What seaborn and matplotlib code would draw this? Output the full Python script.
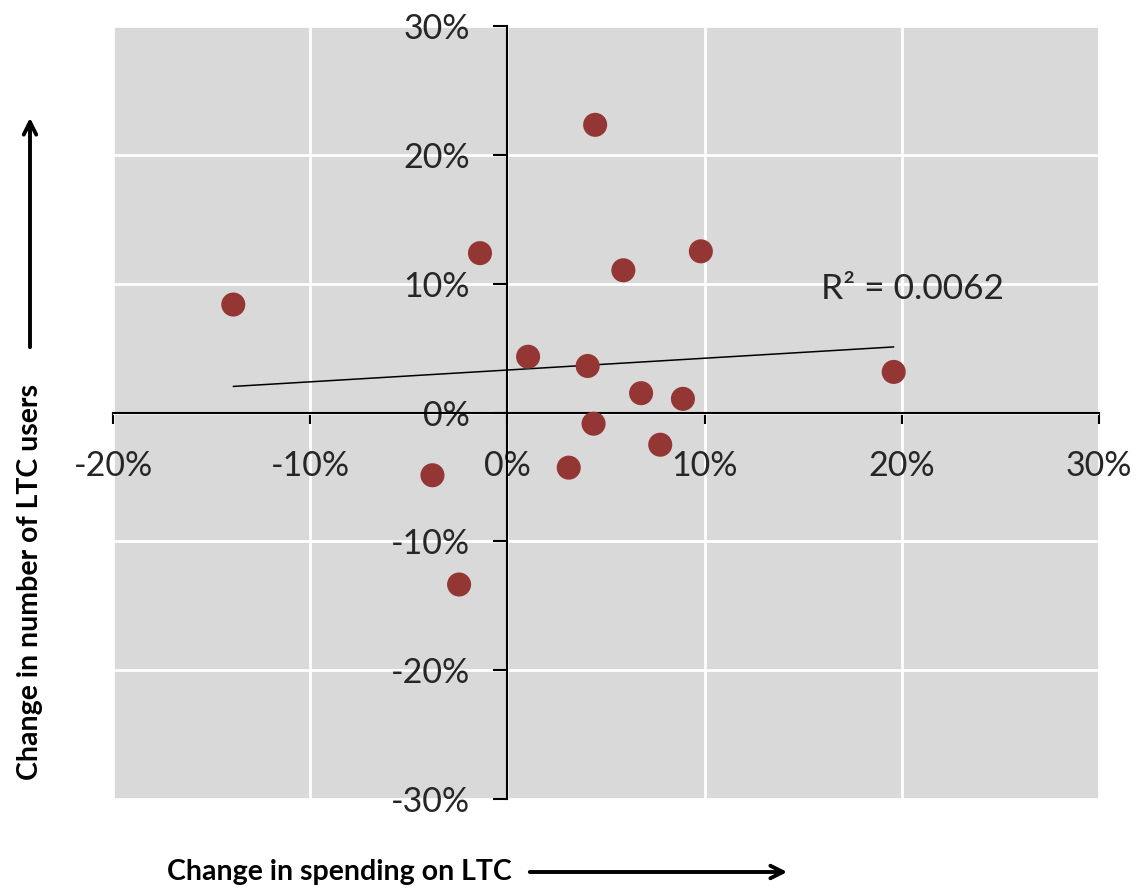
import numpy as np
import pandas as pd
import seaborn as sns
import matplotlib
matplotlib.use("Agg")
import matplotlib.pyplot as plt
from matplotlib.ticker import FuncFormatter, MultipleLocator

# Data (percent change)
spending_change = [-13.9, 4.45, -1.39, 5.88, 9.81, 1.05, 4.07, 6.78, 8.90, 19.59, 4.37, 7.75, 3.11, -3.80, -2.45]
users_change = [8.38, 22.33, 12.37, 11.04, 12.51, 4.33, 3.61, 1.50, 1.06, 3.15, -0.87, -2.50, -4.28, -4.87, -13.35]
r2_label = "R² = 0.0062"
x_label = "Change in spending on LTC"
y_label = "Change in number of LTC users"

df = pd.DataFrame({"spending": spending_change, "users": users_change})

sns.set_style("darkgrid", {"axes.facecolor": "#D9D9D9", "grid.color": "white",
                           "grid.linewidth": 2.0})
plt.rcParams["font.family"] = ["Lato", "DejaVu Sans"]

fig = plt.figure(figsize=(11.36, 8.9), dpi=100)
ax = fig.add_axes([113 / 1136, 1 - 799 / 890, (1099 - 113) / 1136, (799 - 26) / 890])

sns.regplot(data=df, x="spending", y="users", scatter=False, ci=None, ax=ax,
            line_kws={"color": "black", "linewidth": 1.1}, truncate=True)
sns.scatterplot(data=df, x="spending", y="users", ax=ax, s=300, color="#943634",
                edgecolor="none", zorder=5)

ax.set_xlim(-20, 30)
ax.set_ylim(-30, 30)
ax.xaxis.set_major_locator(MultipleLocator(10))
ax.yaxis.set_major_locator(MultipleLocator(10))
fmt = FuncFormatter(lambda v, p: f"{int(round(v))}%")
ax.xaxis.set_major_formatter(fmt)
ax.yaxis.set_major_formatter(fmt)
ax.set_xlabel("")
ax.set_ylabel("")
ax.grid(True, color="white", linewidth=2.0)
ax.set_axisbelow(True)

for s in ["top", "right"]:
    ax.spines[s].set_visible(False)
ax.spines["left"].set_position(("data", 0))
ax.spines["bottom"].set_position(("data", 0))
for s in ["left", "bottom"]:
    ax.spines[s].set_visible(True)
    ax.spines[s].set_color("black")
    ax.spines[s].set_linewidth(1.5)
    ax.spines[s].set_zorder(3)

ax.tick_params(axis="x", direction="out", length=8, width=1.5, color="black",
               pad=19, labelsize=24.5, labelcolor="#262626", bottom=True)
ax.tick_params(axis="y", direction="out", length=10, width=1.5, color="black",
               pad=17, labelsize=24.5, labelcolor="#262626", left=True)

ax.text(15.9, 9.6, r2_label, fontsize=25.5, color="#262626", ha="left", va="center")

# Axis titles with arrows
fig.text(167 / 1136, 1 - 872 / 890, x_label, fontsize=20.5, fontweight="bold",
         ha="left", va="center", color="black")
ax.annotate("", xy=(790 / 1136, 1 - 872 / 890), xytext=(527 / 1136, 1 - 872 / 890),
            xycoords="figure fraction", textcoords="figure fraction",
            arrowprops=dict(arrowstyle="->,head_length=0.9,head_width=0.45", lw=2.8,
                            color="black"), annotation_clip=False)
fig.text(30 / 1136, 1 - 582 / 890, y_label, fontsize=20.5, fontweight="bold",
         ha="center", va="center", rotation=90, color="black")
ax.annotate("", xy=(30 / 1136, 1 - 115 / 890), xytext=(30 / 1136, 1 - 350 / 890),
            xycoords="figure fraction", textcoords="figure fraction",
            arrowprops=dict(arrowstyle="->,head_length=0.9,head_width=0.45", lw=2.8,
                            color="black"), annotation_clip=False)

fig.savefig("out.png", dpi=100)
